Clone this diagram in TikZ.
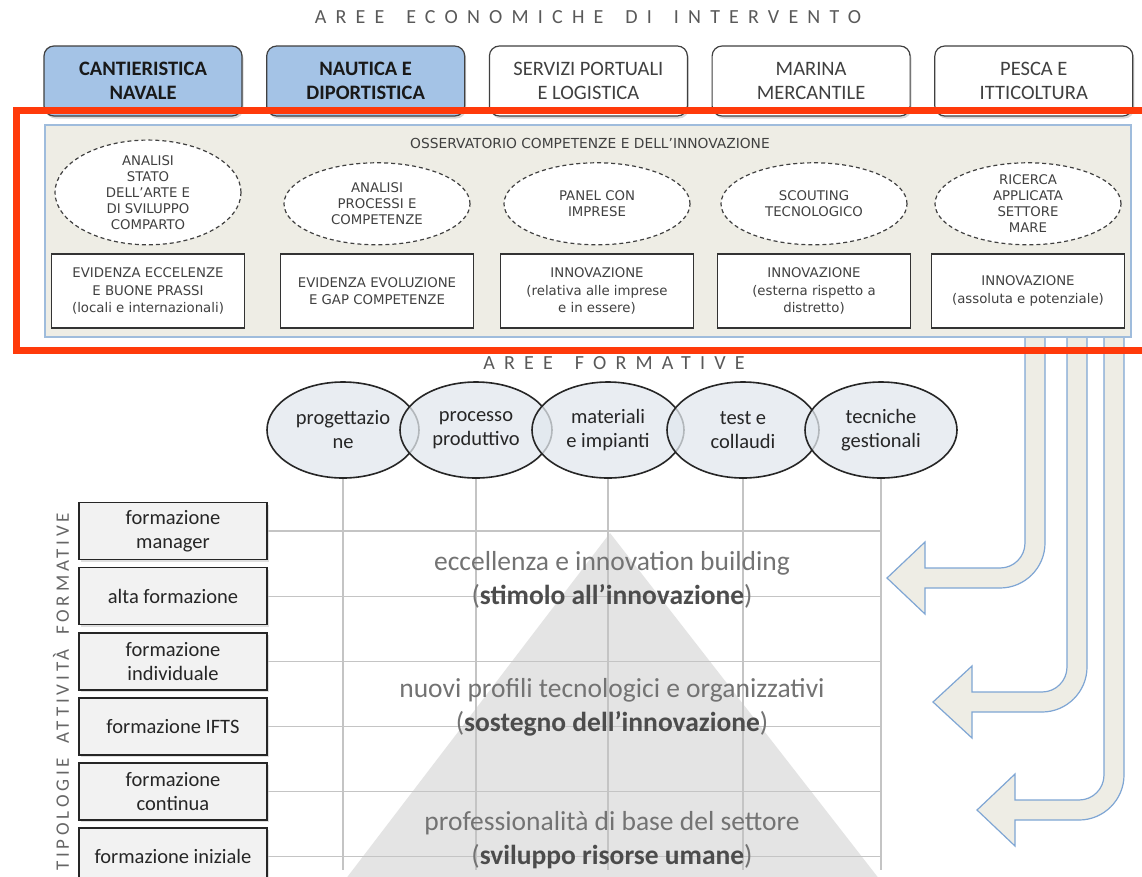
\documentclass[tikz,border=0pt]{standalone}
\usepackage{fontspec}
\setmainfont{Carlito}
\newfontfamily\obsfont{DejaVu Sans}
\newfontfamily\widecaps[LetterSpace=46, WordSpace=1.6]{Carlito}
\newfontfamily\sidecaps[LetterSpace=20, WordSpace=1.8]{Carlito}
\usetikzlibrary{positioning, shapes.geometric, shadows}

\definecolor{seablue}{HTML}{A4C3E6}
\definecolor{panelfill}{HTML}{EEEDE5}
\definecolor{panelline}{HTML}{9FBCDC}
\definecolor{flowline}{HTML}{7FA6D4}
\definecolor{ellfill}{HTML}{E2E8EE}
\definecolor{gridgrey}{HTML}{C4C4C4}
\definecolor{pyrgrey}{HTML}{E4E4E4}
\definecolor{marker}{HTML}{FF3A0A}

\tikzstyle{area} = [draw=black!75, line width=1.2pt, rounded corners=10pt, minimum width=198pt, minimum height=70pt, align=center, fill=white, drop shadow={opacity=0.3, shadow xshift=1.5pt, shadow yshift=-2.5pt}, font=\fontsize{20.5}{24}\selectfont, text=black!75]
\tikzstyle{probe} = [ellipse, draw=black!75, dash pattern=on 4pt off 3pt, line width=1.2pt, fill=white, minimum width=186pt, minimum height=82pt, inner sep=0pt, align=center, font=\obsfont\fontsize{13.3}{16}\selectfont, text=black!75]
\tikzstyle{find} = [draw=black!80, line width=1.2pt, fill=white, minimum width=193pt, minimum height=74pt, align=center, font=\obsfont\fontsize{13.3}{17.5}\selectfont, text=black!75]
\tikzstyle{skill} = [ellipse, draw=black!85, line width=1.6pt, fill=ellfill, fill opacity=0.75, text opacity=1, minimum width=152pt, minimum height=96pt, inner sep=0pt, align=center, font=\fontsize{20.5}{24}\selectfont, text=black!85]
\tikzstyle{act} = [draw=black!85, line width=1.6pt, fill=black!5, minimum width=188pt, minimum height=57pt, align=center, font=\fontsize{20.5}{24}\selectfont, text=black!85, drop shadow={opacity=0.25, shadow xshift=1.5pt, shadow yshift=-2pt}]
\tikzstyle{gridline} = [draw=gridgrey, line width=1.2pt]
\tikzstyle{flow} = [fill=panelfill, draw=flowline, line width=1.2pt]
\tikzstyle{level} = [align=center, text=black!55, font=\fontsize{27.5}{34}\selectfont]

\begin{document}
\begin{tikzpicture}[x=1pt, y=-1pt]

    \useasboundingbox[fill=white] (0,0) rectangle (1142,876);

    % aree economiche
    \node[text=black!65, font=\widecaps\fontsize{20}{22}\selectfont] (ecotitle) at (588,17) {AREE ECONOMICHE DI INTERVENTO};

    \node[area, fill=seablue, text=black!90, font=\bfseries\fontsize{20.5}{24}\selectfont] (cant) at (143,81) {CANTIERISTICA\\NAVALE};
    \node[area, fill=seablue, text=black!90, font=\bfseries\fontsize{20.5}{24}\selectfont, right=23.5pt of cant] (naut) {NAUTICA E\\DIPORTISTICA};
    \node[area, right=23.5pt of naut] (serv) {SERVIZI PORTUALI\\E LOGISTICA};
    \node[area, right=23.5pt of serv] (mari) {MARINA\\MERCANTILE};
    \node[area, right=23.5pt of mari] (pesc) {PESCA E\\ITTICOLTURA};

    % frecce verso le aree formative
    \foreach \a/\t/\hb/\tx in {1025/568/925/887, 1067/692/972/933, 1104/800/1015/977}
        \filldraw[flow] (\a,330) -- (\a,\t-25)
            .. controls (\a,\t-11.2) and (\a-11.2,\t) .. (\a-25,\t)
            -- (\hb,\t) -- (\hb,\t-26) -- (\tx,\t+10) -- (\hb,\t+46) -- (\hb,\t+20)
            -- (\a-25,\t+20)
            .. controls (\a-0.2,\t+20) and (\a+20,\t-0.2) .. (\a+20,\t-25)
            -- (\a+20,330) -- cycle;

    % osservatorio
    \node[draw=panelline, line width=1.2pt, fill=panelfill, minimum width=1086pt, minimum height=212pt] (obs) at (588,231) {};
    \node[text=black!75, font=\obsfont\fontsize{13.8}{16}\selectfont] (obstitle) at (590,143) {OSSERVATORIO COMPETENZE E DELL’INNOVAZIONE};

    \node[find] (ecc) at (148,291) {EVIDENZA ECCELENZE\\E BUONE PRASSI\\(locali e internazionali)};
    \node[find] (evo) at (377,291) {EVIDENZA EVOLUZIONE\\E GAP COMPETENZE};
    \node[find] (inn1) at (597,291) {INNOVAZIONE\\(relativa alle imprese\\e in essere)};
    \node[find] (inn2) at (814,291) {INNOVAZIONE\\(esterna rispetto a\\distretto)};
    \node[find] (inn3) at (1028,291) {INNOVAZIONE\\(assoluta e potenziale)};

    \node[probe, above=8pt of ecc] (stato) {ANALISI\\STATO\\DELL’ARTE E\\DI SVILUPPO\\COMPARTO};
    \node[probe, above=8pt of evo] (proc) {ANALISI\\PROCESSI E\\COMPETENZE};
    \node[probe, above=8pt of inn1] (panel) {PANEL CON\\IMPRESE};
    \node[probe, above=8pt of inn2] (scout) {SCOUTING\\TECNOLOGICO};
    \node[probe, above=8pt of inn3] (ricer) {RICERCA\\APPLICATA\\SETTORE\\MARE};

    % aree formative
    \node[text=black!65, font=\widecaps\fontsize{20}{22}\selectfont] (formtitle) at (614,363) {AREE FORMATIVE};

    \fill[pyrgrey] (610,533) -- (880,880) -- (345,880) -- cycle;

    \node[skill] (prog) at (343,430) {progettazio\\ne};
    \node[skill] (prod) at (476,430) {processo\\produttivo};
    \node[skill] (mat) at (608,430) {materiali\\e impianti};
    \node[skill] (test) at (743,430) {test e\\collaudi};
    \node[skill] (tec) at (881,430) {tecniche\\gestionali};

    \coordinate (base) at (0,870);

    \node[act] (man) at (173,531) {formazione\\manager};
    \node[act, below=6.5pt of man] (alta) {alta formazione};
    \node[act, below=6.5pt of alta] (ind) {formazione\\individuale};
    \node[act, below=6.5pt of ind] (ifts) {formazione IFTS};
    \node[act, below=6.5pt of ifts] (cont) {formazione\\continua};
    \node[act, below=6.5pt of cont] (iniz) {formazione iniziale};

    \foreach \n in {prog, prod, mat, test, tec}
        \draw[gridline] (\n.south) -- (\n.south |- base);
    \foreach \n in {man, alta, ind, ifts, cont, iniz}
        \draw[gridline] (\n.east) -- (\n.east -| tec.south);

    \node[rotate=90, text=black!60, font=\sidecaps\fontsize{19}{22}\selectfont] (tipo) at (61,692) {TIPOLOGIE ATTIVITÀ FORMATIVE};

    \node[level] (ecce) at (612,580) {eccellenza e innovation building\\(\textcolor{black!70}{\textbf{stimolo all’innovazione}})};
    \node[level] (nuovi) at (612,707) {nuovi profili tecnologici e organizzativi\\(\textcolor{black!70}{\textbf{sostegno dell’innovazione}})};
    \node[level] (prof) at (612,840) {professionalità di base del settore\\(\textcolor{black!70}{\textbf{sviluppo risorse umane}})};

    % evidenziazione
    \draw[marker, line width=7pt] (16,110) rectangle (1160,350);

\end{tikzpicture}
\end{document}
